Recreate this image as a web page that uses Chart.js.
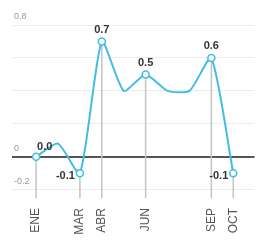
<!DOCTYPE html>
<html>
<head>
<meta charset="utf-8">
<script src="https://cdn.jsdelivr.net/npm/chart.js@4/dist/chart.umd.min.js"></script>
<style>
  html, body { margin: 0; padding: 0; background: #fff; }
  #wrap { width: 260px; height: 244px; position: relative; }
</style>
</head>
<body>
<div id="wrap"><canvas id="grafico"></canvas></div>
<script>
// Datos del gráfico (variación mensual)
const meses = ['ENE', 'FEB', 'MAR', 'ABR', 'MAY', 'JUN', 'JUL', 'AGO', 'SEP', 'OCT'];
const valores = [0.0, 0.08, -0.1, 0.7, 0.4, 0.5, 0.4, 0.4, 0.6, -0.1];
// meses destacados: etiqueta en el eje, punto, línea vertical y valor
const mesesDestacados = ['ENE', 'MAR', 'ABR', 'JUN', 'SEP', 'OCT'];
const etiquetasValor = ['0.0', '', '-0.1', '0.7', '', '0.5', '', '', '0.6', '-0.1'];
const ticksY = [-0.2, 0, 0.2, 0.4, 0.6, 0.8];
const etiquetasY = ['-0.2', '0', '', '', '', '0.8'];

const AZUL = '#41bde6';
const esDestacado = (i) => mesesDestacados.includes(meses[i]);

// Dónde va cada valor respecto a su punto
const posicionValor = { 0: 'arribaDer', 2: 'izq', 3: 'arriba', 5: 'arriba', 8: 'arriba', 9: 'izq' };

const lineasYValores = {
    id: 'lineasYValores',
    beforeDatasetsDraw(chart) {
        const { ctx, chartArea } = chart;
        const meta = chart.getDatasetMeta(0);
        ctx.save();
        ctx.strokeStyle = '#c4c4c4';
        ctx.lineWidth = 1.5;
        meta.data.forEach((p, i) => {
            if (!esDestacado(i)) return;
            ctx.beginPath();
            ctx.moveTo(p.x, p.y);
            ctx.lineTo(p.x, chartArea.bottom);
            ctx.stroke();
        });
        ctx.restore();
    },
    afterDatasetsDraw(chart) {
        const { ctx } = chart;
        const meta = chart.getDatasetMeta(0);
        ctx.save();
        ctx.font = 'bold 11px "Liberation Sans", Arial, sans-serif';
        ctx.fillStyle = '#333';
        meta.data.forEach((p, i) => {
            const txt = etiquetasValor[i];
            if (!txt) return;
            const pos = posicionValor[i];
            if (pos === 'arriba') {
                ctx.textAlign = 'center'; ctx.textBaseline = 'bottom';
                ctx.fillText(txt, p.x, p.y - 6);
            } else if (pos === 'arribaDer') {
                ctx.textAlign = 'left'; ctx.textBaseline = 'bottom';
                ctx.fillText(txt, p.x + 1, p.y - 4);
            } else {
                ctx.textAlign = 'right'; ctx.textBaseline = 'middle';
                ctx.fillText(txt, p.x - 5, p.y + 3);
            }
        });
        ctx.restore();
    }
};

new Chart(document.getElementById('grafico').getContext('2d'), {
    type: 'line',
    data: {
        datasets: [{
            data: valores.map((v, i) => ({ x: i, y: v })),
            borderColor: AZUL,
            borderWidth: 2,
            tension: 0.2,
            pointRadius: valores.map((v, i) => esDestacado(i) ? 3.5 : 0),
            pointBackgroundColor: '#fff',
            pointBorderColor: AZUL,
            pointBorderWidth: 1.5
        }]
    },
    options: {
        responsive: true, maintainAspectRatio: false, animation: false,
        layout: { padding: { top: 25, left: 8, right: 2, bottom: 0 } },
        plugins: { legend: { display: false }, tooltip: { enabled: false } },
        scales: {
            x: {
                type: 'linear', min: -1.1, max: 9.97,
                afterBuildTicks: (s) => { s.ticks = meses.map((m, i) => ({ value: i })); },
                afterFit: (s) => { s.height = 46; },
                grid: { display: false, drawTicks: false },
                border: { display: false },
                ticks: {
                    autoSkip: false, minRotation: 90, maxRotation: 90, padding: 10,
                    color: '#555', font: { size: 12, family: '"Liberation Sans", Arial, sans-serif' },
                    callback: (v) => esDestacado(v) ? meses[v] : ''
                }
            },
            y: {
                min: -0.25, max: 0.8,
                afterBuildTicks: (s) => { s.ticks = ticksY.map(v => ({ value: v })); },
                grid: {
                    drawTicks: false,
                    color: (c) => c.tick && c.tick.value === 0 ? '#555' : '#ececec',
                    lineWidth: (c) => c.tick && c.tick.value === 0 ? 2 : 1
                },
                border: { display: false },
                ticks: {
                    mirror: true, padding: 2, labelOffset: -8,
                    color: '#999', font: { size: 9, family: '"Liberation Sans", Arial, sans-serif' },
                    callback: (v) => etiquetasY[ticksY.indexOf(Math.round(v * 100) / 100)] || ''
                }
            }
        }
    },
    plugins: [lineasYValores]
});
</script>
</body>
</html>
